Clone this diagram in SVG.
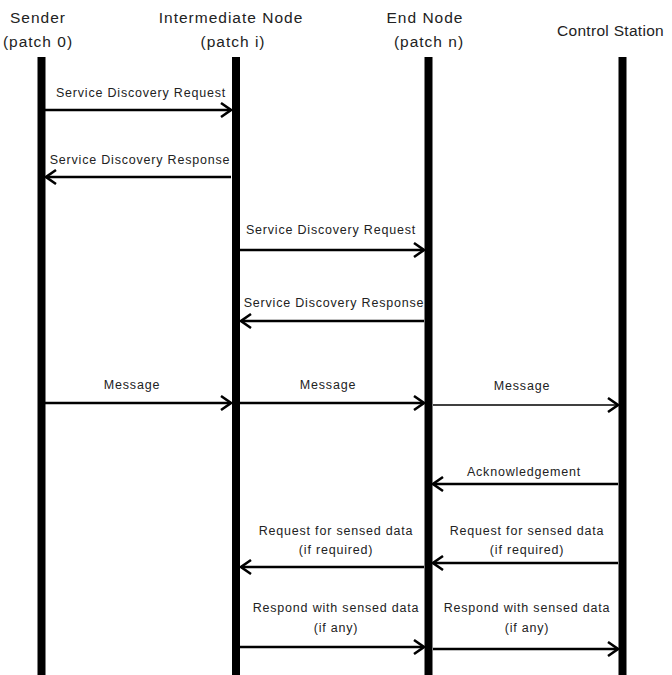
<svg xmlns="http://www.w3.org/2000/svg" width="672" height="675" viewBox="0 0 672 675">
<style>
.hd{font-family:"Liberation Sans",Arial,sans-serif;font-size:15.5px;letter-spacing:1px;fill:#222;text-anchor:middle}
.lb{font-family:"Liberation Sans",Arial,sans-serif;font-size:12.5px;letter-spacing:0.8px;fill:#222;text-anchor:middle}
.life{fill:#000}
.msg{stroke:#000;stroke-width:2.5;fill:none}
.thin{stroke:#000;stroke-width:1.5;fill:none}
</style>
<defs>
<marker id="ah" markerUnits="userSpaceOnUse" markerWidth="14" markerHeight="16" refX="12" refY="8" orient="auto">
<path d="M2,1 L12,8 L2,15" stroke="#000" stroke-width="2.5" fill="none"/>
</marker>
</defs>
<rect width="672" height="675" fill="#fff"/>
<g id="sender">
<text class="hd" x="38" y="23">Sender</text>
<text class="hd" x="38" y="47">(patch 0)</text>
<rect class="life" x="37.5" y="57" width="8" height="618"/>
</g>
<g id="intermediate">
<text class="hd" x="231" y="23">Intermediate Node</text>
<text class="hd" x="233" y="47">(patch i)</text>
<rect class="life" x="232" y="57" width="8" height="618"/>
</g>
<g id="end">
<text class="hd" x="425" y="23">End Node</text>
<text class="hd" x="429" y="47">(patch n)</text>
<rect class="life" x="424.5" y="57" width="8" height="618"/>
</g>
<g id="control">
<text class="hd" x="557" y="36" style="text-anchor:start;letter-spacing:0.3px">Control Station</text>
<rect class="life" x="618.5" y="57" width="8" height="618"/>
</g>
<g id="connectors">
<line class="msg" x1="45" y1="110" x2="231" y2="110" marker-end="url(#ah)"/>
<text class="lb" x="141" y="97">Service Discovery Request</text>
<line class="msg" x1="231" y1="177" x2="46" y2="177" marker-end="url(#ah)"/>
<text class="lb" x="140" y="164">Service Discovery Response</text>
<line class="msg" x1="240" y1="250" x2="424" y2="250" marker-end="url(#ah)"/>
<text class="lb" x="331" y="234">Service Discovery Request</text>
<line class="msg" x1="424" y1="321" x2="241" y2="321" marker-end="url(#ah)"/>
<text class="lb" x="334" y="307">Service Discovery Response</text>
<line class="msg" x1="45" y1="403" x2="231" y2="403" marker-end="url(#ah)"/>
<text class="lb" x="132" y="389">Message</text>
<line class="msg" x1="240" y1="403" x2="424" y2="403" marker-end="url(#ah)"/>
<text class="lb" x="328" y="389">Message</text>
<line class="thin" x1="433" y1="405" x2="618" y2="405" marker-end="url(#ah)"/>
<text class="lb" x="522" y="390">Message</text>
<line class="msg" x1="618" y1="484" x2="433" y2="484" marker-end="url(#ah)"/>
<text class="lb" x="524" y="476">Acknowledgement</text>
<line class="msg" x1="424" y1="567" x2="241" y2="567" marker-end="url(#ah)"/>
<text class="lb" x="336" y="535">Request for sensed data</text>
<text class="lb" x="336" y="554">(if required)</text>
<line class="msg" x1="618" y1="563" x2="433" y2="563" marker-end="url(#ah)"/>
<text class="lb" x="527" y="535">Request for sensed data</text>
<text class="lb" x="527" y="554">(if required)</text>
<line class="msg" x1="240" y1="647" x2="424" y2="647" marker-end="url(#ah)"/>
<text class="lb" x="336" y="612">Respond with sensed data</text>
<text class="lb" x="336" y="632">(if any)</text>
<line class="msg" x1="433" y1="649" x2="618" y2="649" marker-end="url(#ah)"/>
<text class="lb" x="527" y="612">Respond with sensed data</text>
<text class="lb" x="527" y="632">(if any)</text>
</g>
</svg>
